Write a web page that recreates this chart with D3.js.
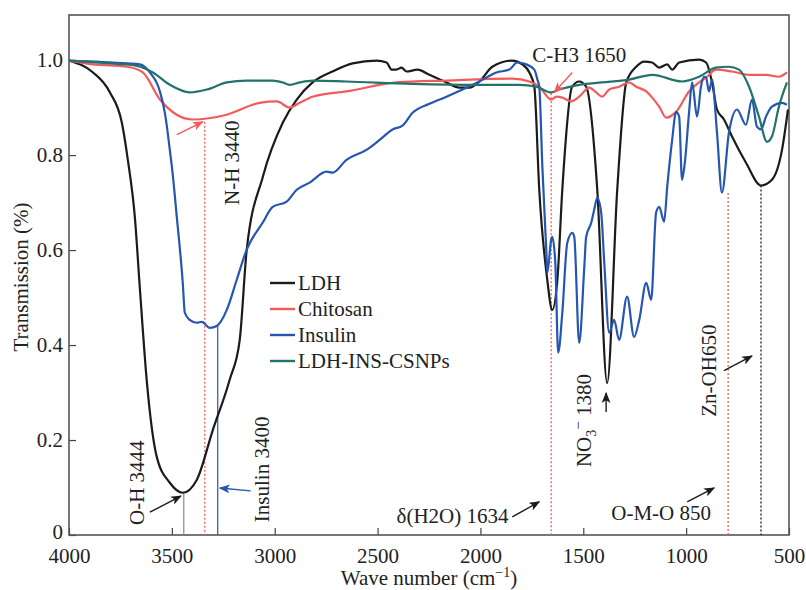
<!DOCTYPE html>
<html>
<head>
<meta charset="utf-8">
<script src="https://cdn.jsdelivr.net/npm/d3@7"></script>
<style>
	body { margin: 0; background: #fff; }
	text { font-family: "Liberation Serif", "DejaVu Serif", serif; fill: #222; }
</style>
</head>
<body>
<svg id="ftir"></svg>
<script>
const W = 806;
const H = 590;
const margin = { top: 15, right: 17, bottom: 55, left: 69 };

const seriesNames = ["LDH", "Chitosan", "Insulin", "LDH-INS-CSNPs"];
const seriesColors = ["#1b1b1b", "#f25a5c", "#2556b1", "#22736a"];
const xTicks = [4000, 3500, 3000, 2500, 2000, 1500, 1000, 500];
const yTicks = [0, 0.2, 0.4, 0.6, 0.8, 1.0];
const yTickLabels = ["0", "0.2", "0.4", "0.6", "0.8", "1.0"];

// [wave number, transmission]
const ldh = [
	[4000, 0.999], [3883, 0.974], [3801, 0.932], [3743, 0.868], [3714, 0.790], [3680, 0.670],
	[3655, 0.516], [3621, 0.320], [3573, 0.164], [3510, 0.110], [3447, 0.089], [3379, 0.116],
	[3301, 0.221], [3219, 0.327], [3170, 0.411], [3136, 0.601], [3058, 0.754], [2961, 0.868],
	[2893, 0.917], [2816, 0.953], [2719, 0.976], [2621, 0.993], [2505, 0.999], [2456, 0.995],
	[2432, 0.980], [2408, 0.980], [2384, 0.984], [2359, 0.976], [2306, 0.980], [2248, 0.969],
	[2165, 0.953], [2102, 0.942], [2054, 0.942], [2005, 0.955], [1942, 0.986], [1845, 0.999],
	[1796, 0.991], [1762, 0.974], [1738, 0.944], [1714, 0.727], [1675, 0.537], [1651, 0.474],
	[1626, 0.537], [1602, 0.727], [1554, 0.944], [1520, 0.955], [1486, 0.944], [1432, 0.727],
	[1384, 0.320], [1335, 0.727], [1291, 0.953], [1243, 0.986], [1204, 0.997], [1165, 0.995],
	[1131, 0.984], [1092, 0.991], [1068, 0.980], [1034, 0.995], [937, 1.001], [903, 0.995],
	[874, 0.953], [850, 0.896], [816, 0.875], [777, 0.839], [709, 0.784], [636, 0.736],
	[583, 0.748], [534, 0.811], [505, 0.896]
];
const chitosan = [
	[4000, 0.999], [3883, 0.991], [3718, 0.986], [3641, 0.974], [3558, 0.917], [3476, 0.885],
	[3398, 0.875], [3233, 0.885], [3073, 0.910], [2990, 0.913], [2927, 0.900], [2879, 0.910],
	[2816, 0.923], [2651, 0.934], [2408, 0.953], [2165, 0.957], [1845, 0.961], [1762, 0.955],
	[1714, 0.944], [1656, 0.917], [1631, 0.923], [1602, 0.921], [1558, 0.913], [1520, 0.923],
	[1471, 0.942], [1437, 0.932], [1408, 0.923], [1374, 0.938], [1326, 0.944], [1277, 0.953],
	[1243, 0.944], [1194, 0.934], [1165, 0.921], [1131, 0.902], [1097, 0.879], [1049, 0.891],
	[986, 0.934], [937, 0.953], [898, 0.965], [855, 0.980], [777, 0.976], [694, 0.969],
	[612, 0.969], [549, 0.965], [510, 0.974]
];
const insulin = [
	[4000, 0.999], [3718, 0.993], [3655, 0.991], [3607, 0.974], [3558, 0.934], [3534, 0.889],
	[3524, 0.860], [3510, 0.811], [3500, 0.776], [3476, 0.670], [3447, 0.531], [3437, 0.468],
	[3413, 0.453], [3379, 0.447], [3354, 0.449], [3316, 0.436], [3282, 0.440], [3233, 0.474],
	[3185, 0.537], [3136, 0.601], [3058, 0.658], [3010, 0.691], [2942, 0.702], [2893, 0.727],
	[2830, 0.742], [2748, 0.765], [2719, 0.763], [2651, 0.790], [2554, 0.811], [2490, 0.832],
	[2427, 0.854], [2379, 0.862], [2330, 0.889], [2248, 0.908], [2165, 0.923], [2087, 0.938],
	[2005, 0.955], [1922, 0.974], [1859, 0.980], [1821, 0.995], [1777, 0.991], [1738, 0.980],
	[1723, 0.959], [1714, 0.944], [1699, 0.776], [1680, 0.601], [1675, 0.552], [1656, 0.622],
	[1651, 0.628], [1636, 0.573], [1622, 0.384], [1602, 0.468], [1578, 0.615], [1554, 0.636],
	[1544, 0.628], [1520, 0.405], [1495, 0.565], [1486, 0.628], [1461, 0.658], [1447, 0.685],
	[1432, 0.710], [1413, 0.679], [1398, 0.573], [1374, 0.426], [1350, 0.453], [1326, 0.411],
	[1287, 0.502], [1253, 0.417], [1228, 0.453], [1194, 0.531], [1170, 0.495], [1146, 0.679],
	[1131, 0.691], [1107, 0.660], [1092, 0.733], [1068, 0.832], [1049, 0.891], [1034, 0.881],
	[1020, 0.748], [1005, 0.790], [986, 0.889], [971, 0.953], [947, 0.881], [928, 0.944],
	[913, 0.965], [903, 0.963], [889, 0.934], [874, 0.959], [850, 0.847], [826, 0.721],
	[792, 0.847], [753, 0.896], [709, 0.864], [680, 0.917], [656, 0.860], [636, 0.854],
	[612, 0.881], [583, 0.902], [534, 0.910], [510, 0.906]
];
const csnps = [
	[4000, 0.999], [3801, 0.993], [3670, 0.988], [3592, 0.974], [3510, 0.948], [3413, 0.932],
	[3330, 0.938], [3233, 0.953], [3136, 0.957], [3010, 0.957], [2961, 0.953], [2927, 0.948],
	[2879, 0.953], [2816, 0.957], [2651, 0.955], [2330, 0.950], [2005, 0.948], [1811, 0.948],
	[1728, 0.944], [1656, 0.932], [1617, 0.938], [1520, 0.948], [1408, 0.953], [1277, 0.959],
	[1165, 0.969], [1020, 0.955], [937, 0.965], [855, 0.984], [792, 0.986], [743, 0.980],
	[694, 0.944], [646, 0.881], [607, 0.828], [583, 0.839], [549, 0.902], [510, 0.953]
];

// marker lines: [wave number, top transmission, colour, dash]
const bandLines = [
	[3340, 0.870, "#f25a5c", "2,2"],
	[3442, 0.088, "#888", null],
	[3277, 0.440, "#2556b1", null],
	[1656, 0.930, "#f25a5c", "2,2"],
	[796, 0.720, "#f25a5c", "2,2"],
	[636, 0.736, "#1b1b1b", "2,2"]
];
// arrows: [from wn, from T, to wn, to T, colour]
const arrows = [
	[3476, 0.843, 3350, 0.870, "#f25a5c"],
	[3607, 0.048, 3456, 0.082, "#1b1b1b"],
	[3117, 0.093, 3267, 0.099, "#2556b1"],
	[1554, 0.974, 1641, 0.932, "#f25a5c"],
	[1389, 0.259, 1389, 0.299, "#1b1b1b"],
	[1845, 0.038, 1714, 0.070, "#1b1b1b"],
	[995, 0.070, 864, 0.099, "#1b1b1b"],
	[816, 0.346, 680, 0.377, "#1b1b1b"]
];
// labels: [text, wn, T, rotated]
const labels = [
	["C-H3 1650", 1748, 0.997, false],
	["N-H 3440", 3175, 0.695, true],
	["O-H 3444", 3636, 0.021, true],
	["Insulin 3400", 3029, 0.027, true],
	["δ(H2O) 1634", 2408, 0.025, false],
	["Zn-OH650", 854, 0.249, true],
	["O-M-O 850", 1364, 0.032, false]
];

const svg = d3.select("#ftir").attr("width", W).attr("height", H);

const x = d3.scaleLinear().domain([4000, 500]).range([margin.left, W - margin.right]);
const y = d3.scaleLinear().domain([0, 1.095]).range([H - margin.bottom, margin.top]);

// arrow heads
const defs = svg.append("defs");
seriesColors.forEach(c => {
	defs.append("marker")
		.attr("id", "ah" + c.slice(1))
		.attr("viewBox", "0 0 10 8")
		.attr("refX", 9).attr("refY", 4)
		.attr("markerUnits", "userSpaceOnUse")
		.attr("markerWidth", 11).attr("markerHeight", 9)
		.attr("orient", "auto")
		.append("path").attr("d", "M0,0 L10,4 L0,8 L2.5,4 z").attr("fill", c);
});

// axes, ticks point inwards
const gx = svg.append("g")
	.attr("transform", `translate(0,${H - margin.bottom})`)
	.call(d3.axisBottom(x).tickValues(xTicks).tickFormat(d3.format("d"))
		.tickSizeInner(-7).tickSizeOuter(0).tickPadding(13));
const gy = svg.append("g")
	.attr("transform", `translate(${margin.left},0)`)
	.call(d3.axisLeft(y).tickValues(yTicks).tickFormat((d, i) => yTickLabels[i])
		.tickSizeInner(-7).tickSizeOuter(0).tickPadding(6));
[gx, gy].forEach(g => {
	g.select(".domain").remove();
	g.selectAll(".tick line").attr("stroke", "#444").attr("stroke-width", 1.2);
	g.selectAll(".tick text").attr("font-size", 21).attr("font-family", "Liberation Serif").attr("fill", "#222");
});
// keep the "0" clear of the "4000" below it
gy.selectAll(".tick text").filter(d => d === 0).attr("dy", "0.15em");

svg.append("rect")
	.attr("x", margin.left).attr("y", margin.top)
	.attr("width", W - margin.left - margin.right)
	.attr("height", H - margin.top - margin.bottom)
	.attr("fill", "none").attr("stroke", "#555").attr("stroke-width", 1.6);

// band marker lines
svg.append("g").selectAll("line").data(bandLines).enter().append("line")
	.attr("x1", d => x(d[0])).attr("x2", d => x(d[0]))
	.attr("y1", d => y(d[1])).attr("y2", y(0))
	.attr("stroke", d => d[2])
	.attr("stroke-width", d => d[3] ? 1.3 : 1.2)
	.attr("stroke-dasharray", d => d[3]);

// spectra
const line = d3.line()
	.x(d => x(d[0]))
	.y(d => y(d[1]))
	.curve(d3.curveMonotoneX);
const spectra = [ldh, chitosan, insulin, csnps];
svg.append("g").selectAll("path").data(spectra).enter().append("path")
	.attr("d", d => line(d.slice().reverse()))
	.attr("fill", "none")
	.attr("stroke", (d, i) => seriesColors[i])
	.attr("stroke-width", 2.2)
	.attr("stroke-linejoin", "round");

// arrows
svg.append("g").selectAll("line").data(arrows).enter().append("line")
	.attr("x1", d => x(d[0])).attr("y1", d => y(d[1]))
	.attr("x2", d => x(d[2])).attr("y2", d => y(d[3]))
	.attr("stroke", d => d[4]).attr("stroke-width", 1.4)
	.attr("marker-end", d => "url(#ah" + d[4].slice(1) + ")");

// labels
svg.append("g").selectAll("text").data(labels).enter().append("text")
	.attr("transform", d => `translate(${x(d[1])},${y(d[2])})` + (d[3] ? " rotate(-90)" : ""))
	.attr("font-size", 21)
	.text(d => d[0]);

const no3 = svg.append("text")
	.attr("transform", `translate(${x(1461)},${y(0.143)}) rotate(-90)`)
	.attr("font-size", 21);
no3.append("tspan").text("NO");
no3.append("tspan").attr("font-size", 14).attr("dy", 5).text("3");
no3.append("tspan").attr("font-size", 15).attr("dy", -13).text("−");
no3.append("tspan").attr("dy", 8).text(" 1380");

// legend
const legend = svg.append("g").attr("transform", "translate(270,283)");
seriesNames.forEach((name, i) => {
	const row = legend.append("g").attr("transform", `translate(0,${i * 26})`);
	row.append("line").attr("x1", 0).attr("x2", 25).attr("stroke", seriesColors[i]).attr("stroke-width", 2.4);
	row.append("text").attr("x", 28).attr("y", 7).attr("font-size", 21).text(name);
});

// axis titles
svg.append("text")
	.attr("transform", `translate(28,${(margin.top + H - margin.bottom) / 2 + 2}) rotate(-90)`)
	.attr("text-anchor", "middle").attr("font-size", 21)
	.text("Transmission (%)");
const xt = svg.append("text")
	.attr("x", (margin.left + W - margin.right) / 2)
	.attr("y", 585)
	.attr("text-anchor", "middle").attr("font-size", 21);
xt.append("tspan").text("Wave number (cm");
xt.append("tspan").attr("font-size", 14).attr("dy", -8).text("−1");
xt.append("tspan").attr("dy", 8).text(")");
</script>
</body>
</html>
